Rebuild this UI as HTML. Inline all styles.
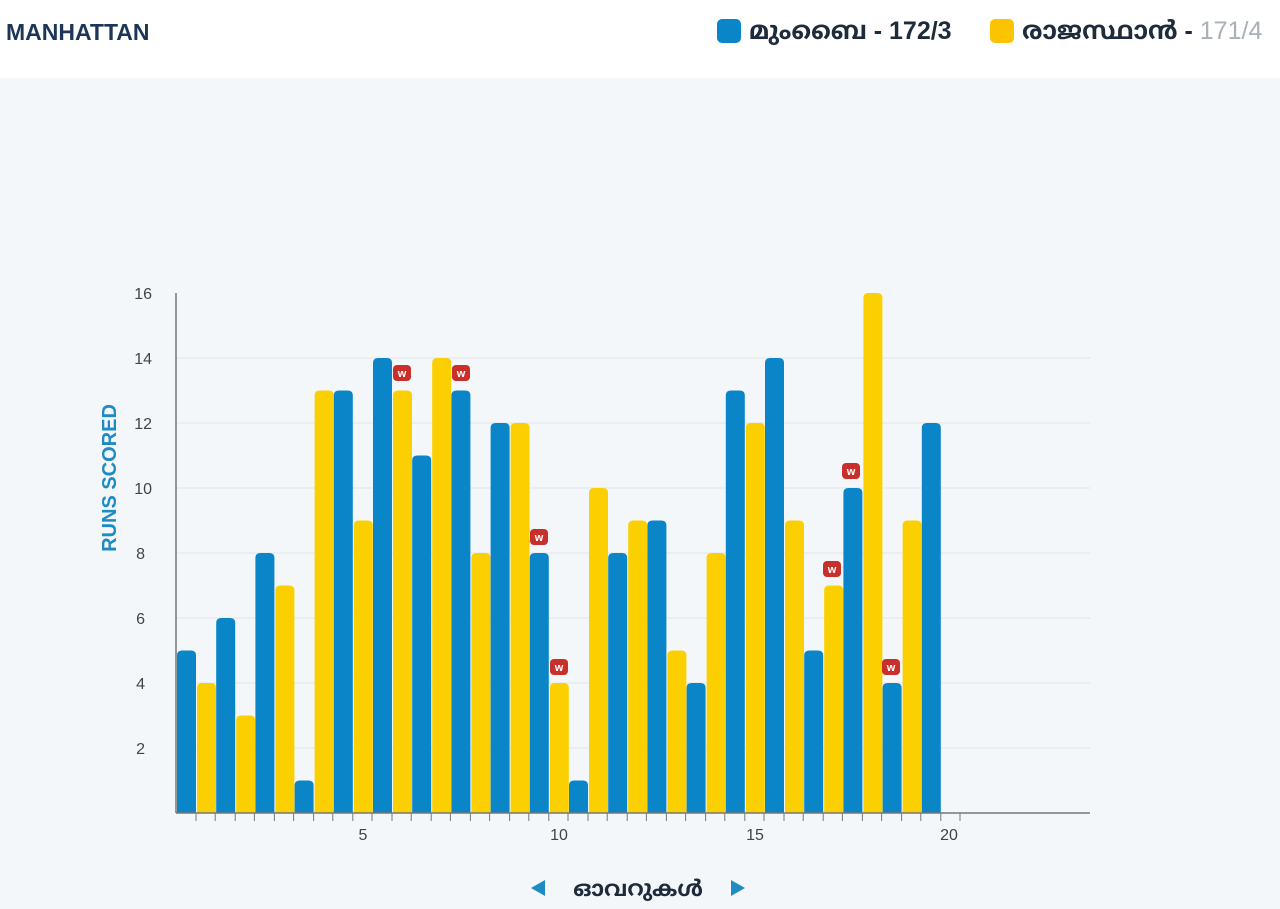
<!DOCTYPE html>
<html><head><meta charset="utf-8"><style>
body{margin:0;width:1280px;height:909px;background:#f3f7f9;font-family:"Liberation Sans",sans-serif;overflow:hidden;position:relative}
.hdr{position:absolute;left:0;top:0;width:1280px;height:78px;background:#fff}
.t{position:absolute;left:6px;top:19px;font-weight:bold;font-size:23px;color:#1d3557}
.lg{position:absolute;top:17px;font-size:25px;font-weight:bold;color:#1d2b3a;font-family:"Liberation Sans","Noto Sans Malayalam",sans-serif;white-space:nowrap}
.sq{display:inline-block;width:24px;height:24px;border-radius:5px;vertical-align:-4px;margin-right:8px}
</style></head><body>
<div class="hdr"></div>
<div class="t">MANHATTAN</div>
<div class="lg" style="left:717px"><span class="sq" style="background:#0a86c8"></span>മുംബൈ - 172/3</div>
<div class="lg" style="left:990px"><span class="sq" style="background:#fcc400"></span>രാജസ്ഥാൻ - <span style="color:#a9b0b8;font-weight:normal">171/4</span></div>
<svg id="s" width="1280" height="909" style="position:absolute;left:0;top:0" font-family="Liberation Sans, sans-serif">
<g stroke="#e1e5e9" stroke-width="1">
<line x1="176" x2="1090" y1="358" y2="358"/><line x1="176" x2="1090" y1="423" y2="423"/><line x1="176" x2="1090" y1="488" y2="488"/><line x1="176" x2="1090" y1="553" y2="553"/><line x1="176" x2="1090" y1="618" y2="618"/><line x1="176" x2="1090" y1="683" y2="683"/><line x1="176" x2="1090" y1="748" y2="748"/>
</g>
<g font-size="16" fill="#444" text-anchor="end">
<text x="152" y="299">16</text><text x="152" y="364">14</text><text x="152" y="429">12</text><text x="152" y="494">10</text><text x="145" y="559">8</text><text x="145" y="624">6</text><text x="145" y="689">4</text><text x="145" y="754">2</text>
</g>
<g font-size="16" fill="#444" text-anchor="middle">
<text x="363" y="840">5</text><text x="559" y="840">10</text><text x="755" y="840">15</text><text x="949" y="840">20</text>
</g>
<text transform="translate(116,478) rotate(-90)" text-anchor="middle" font-size="20" font-weight="bold" fill="#1e8bc3">RUNS SCORED</text>
<g id="bars"></g>
<line x1="176" y1="293" x2="176" y2="813" stroke="#777" stroke-width="1.5"/>
<line x1="176" y1="813" x2="1090" y2="813" stroke="#777" stroke-width="1.5"/>
<g id="ticks" stroke="#777"></g>
<g id="w"></g>
<g font-size="11" font-weight="bold" fill="#fff" text-anchor="middle">
<text x="402" y="377">w</text><text x="461" y="377">w</text><text x="539" y="541">w</text><text x="559" y="671">w</text><text x="832" y="573">w</text><text x="851" y="475">w</text><text x="891" y="671">w</text>
</g>
<polygon points="531,888 545,880 545,896" fill="#1e8bc3"/>
<polygon points="745,888 731,880 731,896" fill="#1e8bc3"/>
<text x="638" y="896" text-anchor="middle" font-size="22" font-weight="bold" fill="#1d2b3a" font-family="Liberation Sans, Noto Sans Malayalam, sans-serif">ഓവറുകൾ</text>
</svg>
<script>
var B=[5,6,8,1,13,14,11,13,12,8,1,8,9,4,13,14,5,10,4,12],Y=[4,3,7,13,9,13,14,8,12,4,10,9,5,8,12,9,7,16,9];
var ns="http://www.w3.org/2000/svg",g=document.getElementById('bars'),t=document.getElementById('ticks'),w=document.getElementById('w');
function bar(x,v,c){var y=813-v*32.5,r=5,wd=19;var p=document.createElementNS(ns,'path');
p.setAttribute('d','M'+x+',813V'+(y+r)+'Q'+x+','+y+' '+(x+r)+','+y+'H'+(x+wd-r)+'Q'+(x+wd)+','+y+' '+(x+wd)+','+(y+r)+'V813Z');p.setAttribute('fill',c);g.appendChild(p);}
for(var i=0;i<20;i++){var x0=176+i*39.2;bar(x0+1,B[i],'#0a86c8');if(i<19)bar(x0+21,Y[i],'#fcd000');
[x0+20,x0+39.2].forEach(function(x){var l=document.createElementNS(ns,'line');l.setAttribute('x1',x);l.setAttribute('x2',x);l.setAttribute('y1',813);l.setAttribute('y2',821);t.appendChild(l);});}
[[402,373],[461,373],[539,537],[559,667],[832,569],[851,471],[891,667]].forEach(function(p){var r=document.createElementNS(ns,'rect');r.setAttribute('x',p[0]-9);r.setAttribute('y',p[1]-8);r.setAttribute('width',18);r.setAttribute('height',16);r.setAttribute('rx',4);r.setAttribute('fill','#c8312b');w.appendChild(r);});
</script>
</body></html>
